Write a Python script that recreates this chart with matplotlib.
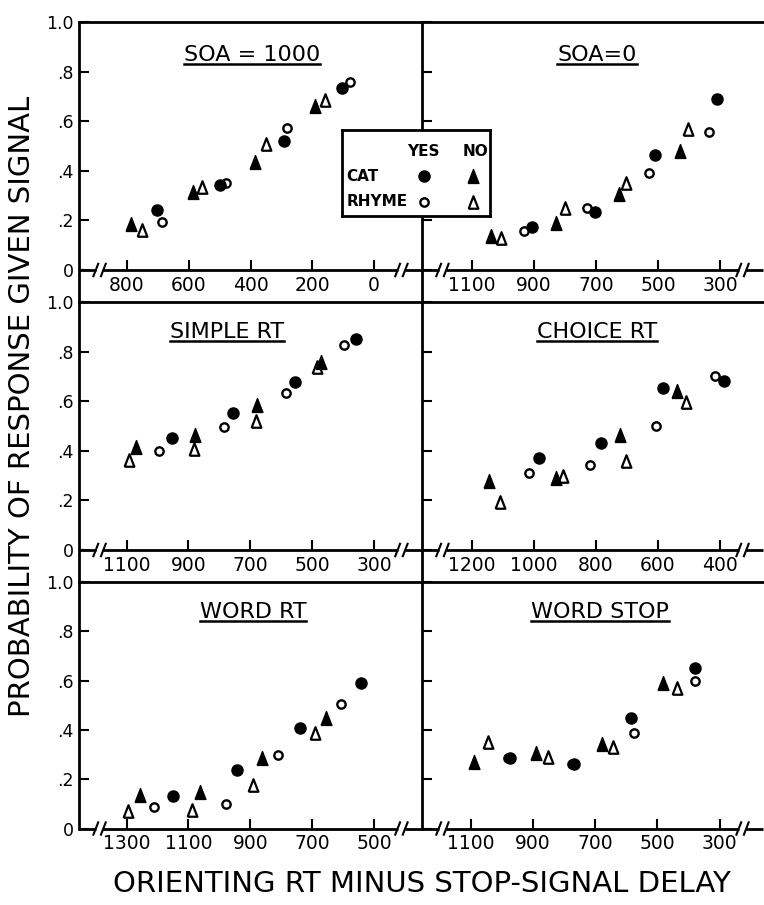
import matplotlib
matplotlib.use("Agg")
import matplotlib.pyplot as plt
from matplotlib.lines import Line2D

W, H = 764, 905

# ------------------------------------------------------------------ data
panel_titles = ["SOA = 1000", "SOA=0", "SIMPLE RT", "CHOICE RT", "WORD RT", "WORD STOP"]
panel_xticks = [[800, 600, 400, 200, 0],
                [1100, 900, 700, 500, 300],
                [1100, 900, 700, 500, 300],
                [1200, 1000, 800, 600, 400],
                [1300, 1100, 900, 700, 500],
                [1100, 900, 700, 500, 300]]
ytick_values = [0, 0.2, 0.4, 0.6, 0.8, 1.0]
ytick_labels = ["0", ".2", ".4", ".6", ".8", "1.0"]

# SOA = 1000
soa1000_cat_yes_x = [704, 499, 290, 104]
soa1000_cat_yes_y = [0.24, 0.343, 0.52, 0.733]
soa1000_cat_no_x = [788, 587, 385, 190]
soa1000_cat_no_y = [0.185, 0.316, 0.437, 0.661]
soa1000_rhyme_yes_x = [688, 479, 282, 77]
soa1000_rhyme_yes_y = [0.195, 0.35, 0.571, 0.76]
soa1000_rhyme_no_x = [752, 558, 350, 158]
soa1000_rhyme_no_y = [0.16, 0.336, 0.508, 0.685]

# SOA = 0
soa0_cat_yes_x = [906, 704, 509, 309]
soa0_cat_yes_y = [0.172, 0.233, 0.464, 0.688]
soa0_cat_no_x = [1038, 830, 627, 429]
soa0_cat_no_y = [0.137, 0.19, 0.305, 0.481]
soa0_rhyme_yes_x = [933, 728, 528, 334]
soa0_rhyme_yes_y = [0.159, 0.249, 0.39, 0.558]
soa0_rhyme_no_x = [1005, 801, 602, 404]
soa0_rhyme_no_y = [0.128, 0.249, 0.35, 0.567]

# SIMPLE RT
simple_cat_yes_x = [954, 757, 555, 358]
simple_cat_yes_y = [0.45, 0.551, 0.676, 0.851]
simple_cat_no_x = [1071, 879, 677, 471]
simple_cat_no_y = [0.415, 0.464, 0.585, 0.76]
simple_rhyme_yes_x = [995, 785, 585, 396]
simple_rhyme_yes_y = [0.399, 0.495, 0.632, 0.827]
simple_rhyme_no_x = [1092, 882, 682, 485]
simple_rhyme_no_y = [0.363, 0.406, 0.521, 0.737]

# CHOICE RT
choice_cat_yes_x = [982, 782, 583, 388]
choice_cat_yes_y = [0.372, 0.433, 0.652, 0.681]
choice_cat_no_x = [1146, 930, 723, 539]
choice_cat_no_y = [0.278, 0.292, 0.464, 0.642]
choice_rhyme_yes_x = [1015, 819, 607, 415]
choice_rhyme_yes_y = [0.309, 0.343, 0.501, 0.702]
choice_rhyme_no_x = [1108, 906, 702, 510]
choice_rhyme_no_y = [0.195, 0.298, 0.359, 0.598]

# WORD RT
wordrt_cat_yes_x = [1151, 944, 741, 542]
wordrt_cat_yes_y = [0.132, 0.237, 0.409, 0.592]
wordrt_cat_no_x = [1257, 1063, 861, 656]
wordrt_cat_no_y = [0.136, 0.149, 0.287, 0.447]
wordrt_rhyme_yes_x = [1212, 979, 809, 607]
wordrt_rhyme_yes_y = [0.089, 0.099, 0.298, 0.505]
wordrt_rhyme_no_x = [1295, 1090, 890, 691]
wordrt_rhyme_no_y = [0.072, 0.075, 0.176, 0.389]

# WORD STOP
wordstop_cat_yes_x = [972, 768, 584, 378]
wordstop_cat_yes_y = [0.287, 0.262, 0.447, 0.652]
wordstop_cat_no_x = [1089, 889, 679, 481]
wordstop_cat_no_y = [0.271, 0.308, 0.343, 0.592]
wordstop_rhyme_yes_x = [980, 775, 576, 380]
wordstop_rhyme_yes_y = [0.287, 0.262, 0.389, 0.600]
wordstop_rhyme_no_x = [1043, 851, 643, 436]
wordstop_rhyme_no_y = [0.352, 0.291, 0.332, 0.569]

panel_series = [
    [(soa1000_cat_no_x, soa1000_cat_no_y), (soa1000_rhyme_no_x, soa1000_rhyme_no_y),
     (soa1000_cat_yes_x, soa1000_cat_yes_y), (soa1000_rhyme_yes_x, soa1000_rhyme_yes_y)],
    [(soa0_cat_no_x, soa0_cat_no_y), (soa0_rhyme_no_x, soa0_rhyme_no_y),
     (soa0_cat_yes_x, soa0_cat_yes_y), (soa0_rhyme_yes_x, soa0_rhyme_yes_y)],
    [(simple_cat_no_x, simple_cat_no_y), (simple_rhyme_no_x, simple_rhyme_no_y),
     (simple_cat_yes_x, simple_cat_yes_y), (simple_rhyme_yes_x, simple_rhyme_yes_y)],
    [(choice_cat_no_x, choice_cat_no_y), (choice_rhyme_no_x, choice_rhyme_no_y),
     (choice_cat_yes_x, choice_cat_yes_y), (choice_rhyme_yes_x, choice_rhyme_yes_y)],
    [(wordrt_cat_no_x, wordrt_cat_no_y), (wordrt_rhyme_no_x, wordrt_rhyme_no_y),
     (wordrt_cat_yes_x, wordrt_cat_yes_y), (wordrt_rhyme_yes_x, wordrt_rhyme_yes_y)],
    [(wordstop_cat_no_x, wordstop_cat_no_y), (wordstop_rhyme_no_x, wordstop_rhyme_no_y),
     (wordstop_cat_yes_x, wordstop_cat_yes_y), (wordstop_rhyme_yes_x, wordstop_rhyme_yes_y)],
]

# ------------------------------------------------------------------ styles / layout
TRI = [(-0.78, -1), (0.78, -1), (0, 1), (-0.78, -1)]
series_styles = [
    dict(marker=TRI, ms=10, mfc="black", mec="black", mew=1.0),      # cat no
    dict(marker=TRI, ms=9, mfc="none", mec="black", mew=1.6),        # rhyme no
    dict(marker="o", ms=8, mfc="black", mec="black", mew=1.0),       # cat yes
    dict(marker="o", ms=6, mfc="none", mec="black", mew=1.7),        # rhyme yes
]

panel_xlims = [(955, -155), (1261, 161), (1254, 145), (1361, 261), (1454, 345), (1256, 161)]
cols_px = [(79, 422), (422, 763)]
rows_px = [(22, 302, (-32 / 248, 1.0)), (302, 582, (-32 / 248, 1.0)), (582, 828.5, (0.0, 1.0))]

LW = 2.0
plt.rcParams["font.family"] = ["DejaVu Sans"]

fig = plt.figure(figsize=(W / 100, H / 100), dpi=100)
fig.patch.set_facecolor("white")


def broken_axis(ax, y0, breaks=(0.06, 0.94), gap=0.011, h=0.025):
    tr = ax.get_yaxis_transform()
    segs = [(0, breaks[0] - gap), (breaks[0] + gap, breaks[1] - gap), (breaks[1] + gap, 1)]
    for a, c in segs:
        ax.plot([a, c], [y0, y0], color="black", lw=LW, transform=tr,
                clip_on=False, solid_capstyle="butt", zorder=4)
    for b in breaks:
        for s in (-gap, gap):
            ax.plot([b + s - 0.007, b + s + 0.007], [y0 - h, y0 + h], color="black",
                    lw=1.5, transform=tr, clip_on=False, zorder=4)


titles = []
axes = []
for i in range(6):
    r, c = divmod(i, 2)
    x0, x1 = cols_px[c]
    top, bot, ylim = rows_px[r]
    ax = fig.add_axes([x0 / W, 1 - bot / H, (x1 - x0) / W, (bot - top) / H])
    ax.set_facecolor("none")
    axes.append(ax)
    ax.set_xlim(*panel_xlims[i])
    ax.set_ylim(*ylim)

    for (xs, ys), st in zip(panel_series[i], series_styles):
        ax.plot(xs, ys, linestyle="none", zorder=3, clip_on=False, **st)

    ax.spines["bottom"].set_position(("data", 0))
    ax.spines["bottom"].set_visible(False)
    ax.spines["right"].set_visible(False)
    ax.spines["top"].set_linewidth(LW)
    ax.spines["left"].set_linewidth(LW)
    broken_axis(ax, 0)

    ax.set_xticks(panel_xticks[i])
    ax.set_xticklabels([str(t) for t in panel_xticks[i]])
    ax.set_yticks(ytick_values)
    ax.set_yticklabels(ytick_labels)
    ax.xaxis.set_ticks_position("bottom")
    ax.yaxis.set_ticks_position("left")
    ax.tick_params(axis="x", direction="in", length=7, width=1.5, pad=4, labelsize=13.5)
    ax.tick_params(axis="y", direction="in", length=7, width=1.5, pad=4, labelsize=12.5,
                   labelleft=(c == 0))

    t = ax.text(0.5, 0.0, panel_titles[i], fontsize=16, ha="center", va="center",
                transform=ax.transAxes)
    titles.append(t)

title_py = [55, 55, 332, 332, 612, 612]
title_px = [252, 597, 227, 597, 253, 600]
for t, ax, px, py in zip(titles, axes, title_px, title_py):
    t.set_transform(fig.transFigure)
    t.set_position((px / W, 1 - py / H))

# legend box
lax = fig.add_axes([342 / W, 1 - 216 / H, 148 / W, 86 / H], zorder=10)
lax.set_facecolor("white")
lax.set_xlim(0, 1)
lax.set_ylim(0, 1)
lax.set_xticks([])
lax.set_yticks([])
for sp in lax.spines.values():
    sp.set_linewidth(LW)
lfont = dict(fontsize=11, fontweight="bold", va="center")
lax.text(0.55, 0.745, "YES", ha="center", **lfont)
lax.text(0.90, 0.745, "NO", ha="center", **lfont)
lax.text(0.03, 0.465, "CAT", ha="left", **lfont)
lax.text(0.03, 0.165, "RHYME", ha="left", **lfont)
lax.plot([0.553], [0.465], **series_styles[2])
lax.plot([0.885], [0.465], **series_styles[0])
lax.plot([0.553], [0.165], **series_styles[3])
lax.plot([0.885], [0.165], **series_styles[1])

fig.text(22 / W, 1 - 406 / H, "PROBABILITY OF RESPONSE GIVEN SIGNAL", rotation=90,
         ha="center", va="center", fontsize=21)
fig.text(422 / W, 1 - 884 / H, "ORIENTING RT MINUS STOP-SIGNAL DELAY",
         ha="center", va="center", fontsize=21)

# underline the panel titles
fig.canvas.draw()
renderer = fig.canvas.get_renderer()
inv = fig.transFigure.inverted()
for t in titles:
    bb = t.get_window_extent(renderer)
    (fx0, fy0) = inv.transform((bb.x0, bb.y0 + 1))
    (fx1, _) = inv.transform((bb.x1, bb.y0 + 1))
    fig.add_artist(Line2D([fx0, fx1], [fy0, fy0], transform=fig.transFigure,
                          color="black", lw=1.8))

fig.savefig("out.png", dpi=100, facecolor="white")
